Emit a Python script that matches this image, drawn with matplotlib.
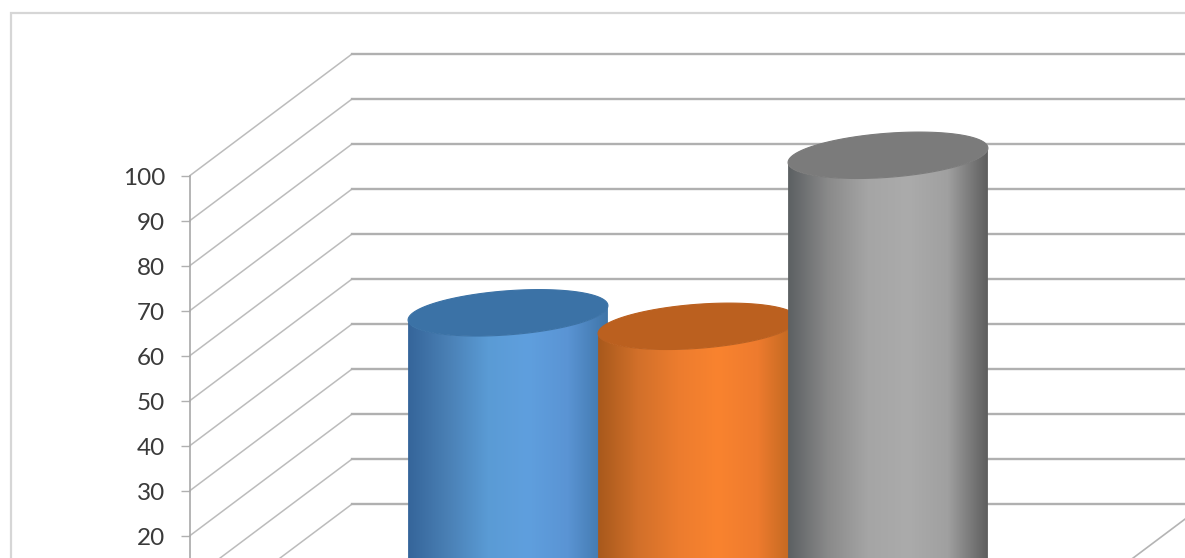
"""3D style cylinder chart, cropped the way the source picture is."""
import numpy as np
import matplotlib.pyplot as plt
from matplotlib.colors import LinearSegmentedColormap
from matplotlib.patches import Polygon, Rectangle

plt.rcParams['font.family'] = ['Lato', 'DejaVu Sans']

# --- Data ---
series_values = [56, 53, 91]
grid_values = [0, 10, 20, 30, 40, 50, 60, 70, 80, 90, 100]
tick_values = [20, 30, 40, 50, 60, 70, 80, 90, 100]
top_colors = ["#3b72a6", "#bb601f", "#7b7b7b"]
side_colors = [
    ["#35659a", "#4a80b5", "#5a9bd5", "#5f9fde", "#5a94d4", "#3f75a8"],
    ["#a8591c", "#d2702a", "#ec7c2e", "#f9832f", "#ee7b2e", "#b9651f"],
    ["#5c6062", "#8a8a8a", "#a5a5a5", "#ababab", "#a0a0a0", "#5e5e5e"],
]

# --- Layout of the fake 3D box (x in pixels, y in value units) ---
px_per_unit = 4.5
wall_x = 190
depth_dx = 162
depth_dv = 27
first_center = 508
step = 190
radius = 95
tilt = 0.191

fig = plt.figure(figsize=(11.85, 5.58), dpi=100)
ax = fig.add_axes([0, 0, 1, 1])
ymin = 20 - (558 - 535.6) / px_per_unit
ymax = 100 + 175.5 / px_per_unit

# chart frame, runs off the right and bottom of the crop
fig.add_artist(Rectangle((11 / 1185, -0.1), 1.2, 1.1 - 13 / 558, transform=fig.transFigure,
                         fill=False, edgecolor="#d6d6d6", linewidth=1.6))

# --- Walls ---
for v in grid_values:
    ax.plot([wall_x, wall_x + depth_dx], [v, v + depth_dv],
            color="#bcbcbc", linewidth=1.1, zorder=1)
    ax.plot([wall_x + depth_dx, 1185], [v + depth_dv, v + depth_dv],
            color="#b0b0b0", linewidth=1.7, zorder=1)
ax.plot([1043, 1043 + depth_dx], [0, depth_dv], color="#b4b4b4", linewidth=1.2, zorder=1)

# --- Cylinders ---
t_left = np.pi + np.arctan2(depth_dx * tilt, radius)
for i, value in enumerate(series_values):
    cx = first_center + step * i
    t = np.linspace(0, 2 * np.pi, 200)
    ex = cx + radius * np.cos(t) + depth_dx * tilt * np.sin(t)
    ey = value + depth_dv * 0.5 + depth_dv * tilt * np.sin(t)

    # front half of the rim going down to the floor
    tf = np.linspace(t_left, t_left + np.pi, 100)
    fx = cx + radius * np.cos(tf) + depth_dx * tilt * np.sin(tf)
    fy = value + depth_dv * 0.5 + depth_dv * tilt * np.sin(tf)
    outline = np.column_stack([np.r_[fx, fx[-1], fx[0]], np.r_[fy, 0, 0]])
    clip = Polygon(outline, closed=True, facecolor="none", edgecolor="none", zorder=2 + i)
    ax.add_patch(clip)

    cmap = LinearSegmentedColormap.from_list(f"side{i}", side_colors[i])
    img = ax.imshow(np.linspace(0, 1, 256)[None, :], cmap=cmap, aspect="auto",
                    extent=[fx.min(), fx.max(), 0, value + 40], zorder=2 + i)
    img.set_clip_path(clip)
    ax.fill(ex, ey, facecolor=top_colors[i], edgecolor=top_colors[i], linewidth=0.8,
            zorder=2 + i + 0.5)

# --- Axis ---
ax.set_xlim(0, 1185)
ax.set_ylim(ymin, ymax)
ax.set_xticks([])
ax.set_yticks(tick_values)
ax.tick_params(axis="y", length=6.5, width=1, color="#b0b0b0", labelleft=False)
# labels sit a little under their ticks in the original
for v in tick_values:
    ax.annotate(str(v), (wall_x, v), xytext=(-18, -2.2), textcoords="offset points",
                ha="right", va="center", fontsize=17.5, color="#3a3a3a")
ax.patch.set_visible(False)
for side in ["top", "right", "bottom"]:
    ax.spines[side].set_visible(False)
ax.spines["left"].set_position(("data", wall_x))
ax.spines["left"].set_bounds(0, 100)
ax.spines["left"].set_color("#a8a8a8")
ax.spines["left"].set_linewidth(1.2)

fig.savefig("out.png", dpi=100)
